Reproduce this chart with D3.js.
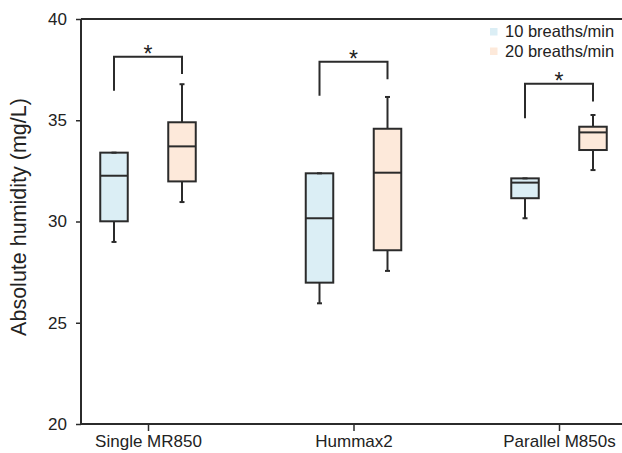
<!DOCTYPE html>
<html>
<head>
<meta charset="utf-8">
<title>Absolute humidity</title>
<script src="https://cdn.jsdelivr.net/npm/d3@7"></script>
<style>
  body { margin: 0; background: #fff; }
  svg { display: block; font-family: "Liberation Sans", Arial, sans-serif; }
</style>
</head>
<body>
<div id="main-container"></div>
<script>
// data
var categories = ["Single MR850", "Hummax2", "Parallel M850s"];
var series = ["10 breaths/min", "20 breaths/min"];
var yTicks = [20, 25, 30, 35, 40];

// [min, q1, median, q3, max] per category
var slow = [
  [28.99, 30.01, 32.26, 33.40, 33.40],
  [25.96, 26.98, 30.16, 32.38, 32.38],
  [30.16, 31.15, 31.92, 32.13, 32.13]
];
var fast = [
  [30.96, 31.98, 33.71, 34.90, 36.78],
  [27.56, 28.58, 32.41, 34.58, 36.15],
  [32.54, 33.53, 34.40, 34.68, 35.26]
];

// significance brackets: top, left leg end, right leg end
var bracketTop = [38.14, 37.89, 36.80];
var bracketLeft = [36.46, 36.21, 35.10];
var bracketRight = [37.28, 37.02, 35.92];

var colors = ["#dbeef5", "#fde9da"];
var ink = "#2b2b2b";

var chartW = 622, chartH = 453;
var plotLeft = 81, plotTop = 19, plotBottom = 424;

var svg = d3.select("#main-container")
  .append("svg")
    .attr("width", chartW)
    .attr("height", chartH);

var y = d3.scaleLinear().domain([20, 40]).range([plotBottom, plotTop]);
var x = d3.scalePoint().domain(categories).range([148, 559]);
var xSub = d3.scalePoint().domain(series).range([-34, 34]);
var boxW = 27.5;

// axes
var yAxis = svg.append("g")
  .attr("transform", "translate(" + plotLeft + ",0)")
  .call(d3.axisLeft(y).tickValues(yTicks).tickSize(5).tickPadding(9));
yAxis.select(".domain").remove();
yAxis.selectAll(".tick line").attr("stroke", ink).attr("stroke-width", 1.5);
yAxis.selectAll(".tick text")
  .attr("fill", "#222")
  .style("font-size", "17px");

var xAxis = svg.append("g")
  .attr("transform", "translate(0," + plotBottom + ")")
  .call(d3.axisBottom(x).tickSize(7).tickPadding(4));
xAxis.select(".domain").remove();
xAxis.selectAll(".tick line").attr("stroke", ink).attr("stroke-width", 1.5);
xAxis.selectAll(".tick text")
  .attr("fill", "#222")
  .style("font-size", "17px");

// frame lines (left, bottom, top)
svg.append("line")
  .attr("x1", plotLeft).attr("x2", plotLeft)
  .attr("y1", y(40)).attr("y2", y(20))
  .attr("stroke", ink).attr("stroke-width", 2);
svg.append("line")
  .attr("x1", plotLeft).attr("x2", chartW)
  .attr("y1", y(20)).attr("y2", y(20))
  .attr("stroke", ink).attr("stroke-width", 2);
svg.append("line")
  .attr("x1", plotLeft).attr("x2", chartW)
  .attr("y1", y(40)).attr("y2", y(40))
  .attr("stroke", ink).attr("stroke-width", 2);

// axis title
svg.append("text")
  .attr("transform", "translate(26,217) rotate(-90)")
  .attr("text-anchor", "middle")
  .attr("fill", "#222")
  .style("font-size", "21.5px")
  .text("Absolute humidity (mg/L)");

// boxes
var boxData = [];
categories.forEach(function(c, i) {
  boxData.push({ cat: c, s: 0, v: slow[i] });
  boxData.push({ cat: c, s: 1, v: fast[i] });
});

var boxes = svg.selectAll("g.box")
  .data(boxData)
  .enter()
  .append("g")
    .attr("class", "box")
    .attr("transform", function(d) { return "translate(" + (x(d.cat) + xSub(series[d.s])) + ",0)"; });

// whiskers
boxes.append("line")
  .attr("x1", 0).attr("x2", 0)
  .attr("y1", function(d) { return y(d.v[0]); })
  .attr("y2", function(d) { return y(d.v[1]); })
  .attr("stroke", ink).attr("stroke-width", 2);
boxes.append("line")
  .attr("x1", 0).attr("x2", 0)
  .attr("y1", function(d) { return y(d.v[3]); })
  .attr("y2", function(d) { return y(d.v[4]); })
  .attr("stroke", ink).attr("stroke-width", 2);
boxes.append("rect")
  .attr("x", -boxW / 2)
  .attr("width", boxW)
  .attr("y", function(d) { return y(d.v[3]); })
  .attr("height", function(d) { return y(d.v[1]) - y(d.v[3]); })
  .attr("fill", function(d) { return colors[d.s]; })
  .attr("stroke", ink).attr("stroke-width", 2);
boxes.append("line")
  .attr("x1", -boxW / 2).attr("x2", boxW / 2)
  .attr("y1", function(d) { return y(d.v[2]); })
  .attr("y2", function(d) { return y(d.v[2]); })
  .attr("stroke", ink).attr("stroke-width", 2);
// caps
boxes.selectAll("line.cap")
  .data(function(d) { return [d.v[0], d.v[4]]; })
  .enter()
  .append("line")
    .attr("class", "cap")
    .attr("x1", -2.5).attr("x2", 2.5)
    .attr("y1", function(v) { return y(v); })
    .attr("y2", function(v) { return y(v); })
    .attr("stroke", ink).attr("stroke-width", 2);

// significance brackets
categories.forEach(function(c, i) {
  var x1 = x(c) + xSub(series[0]);
  var x2 = x(c) + xSub(series[1]);
  svg.append("path")
    .attr("d", "M" + x1 + "," + y(bracketLeft[i]) +
               "V" + y(bracketTop[i]) +
               "H" + x2 +
               "V" + y(bracketRight[i]))
    .attr("fill", "none")
    .attr("stroke", ink).attr("stroke-width", 2);
  svg.append("text")
    .attr("x", (x1 + x2) / 2)
    .attr("y", y(bracketTop[i]) + 5)
    .attr("text-anchor", "middle")
    .attr("fill", "#222")
    .style("font-size", "23px")
    .text("*");
});

// legend
var legend = svg.selectAll("g.legend")
  .data(series)
  .enter()
  .append("g")
    .attr("class", "legend")
    .attr("transform", function(d, i) { return "translate(490," + (28 + i * 19.5) + ")"; });
legend.append("rect")
  .attr("width", 7.5).attr("height", 7.5)
  .attr("fill", function(d, i) { return colors[i]; });
legend.append("text")
  .attr("x", 15).attr("y", 9)
  .attr("fill", "#222")
  .style("font-size", "16.5px")
  .text(function(d) { return d; });
</script>
</body>
</html>
